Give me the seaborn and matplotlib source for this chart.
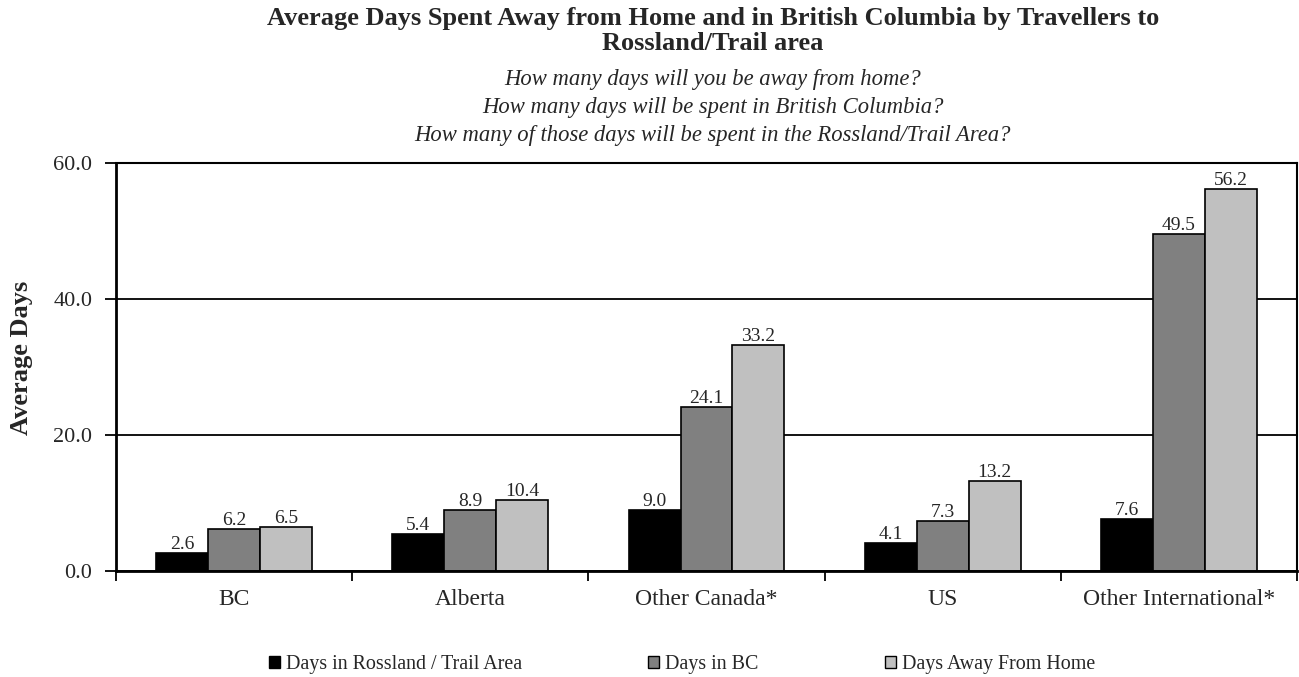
import matplotlib
matplotlib.use("Agg")
import matplotlib.pyplot as plt
import seaborn as sns
import pandas as pd
from matplotlib.ticker import FixedLocator
from matplotlib.patches import Patch

categories = ["BC", "Alberta", "Other Canada*", "US", "Other International*"]
series_names = ["Days in Rossland/Trail Area", "Days in BC", "Days Away From Home"]
legend_labels = ["Days in Rossland / Trail Area", "Days in BC", "Days Away From Home"]
days_rossland = [2.6, 5.4, 9.0, 4.1, 7.6]
days_bc = [6.2, 8.9, 24.1, 7.3, 49.5]
days_away = [6.5, 10.4, 33.2, 13.2, 56.2]
colors = ["#000000", "#808080", "#C0C0C0"]
yticks = [0, 20, 40, 60]
title_lines = ["Average Days Spent Away from Home and in British Columbia by Travellers to",
               "Rossland/Trail area"]
subtitle_lines = ["How many days will you be away from home?",
                  "How many days will be spent in British Columbia?",
                  "How many of those days will be spent in the Rossland/Trail Area?"]

rows = []
for name, vals in zip(series_names, [days_rossland, days_bc, days_away]):
    for c, v in zip(categories, vals):
        rows.append({"Region": c, "Series": name, "Days": v})
df = pd.DataFrame(rows)

sns.set_style("white")
plt.rcParams["font.family"] = ["Liberation Serif", "DejaVu Serif"]

W, H = 1299, 677
fig = plt.figure(figsize=(W / 100, H / 100), dpi=100)
ax = fig.add_axes([116 / W, 1 - 571 / H, (1297 - 116) / W, (571 - 163) / H])

sns.barplot(data=df, x="Region", y="Days", hue="Series", order=categories,
            hue_order=series_names, palette=colors, width=0.66, saturation=1,
            edgecolor="black", linewidth=1.2, ax=ax, legend=False, errorbar=None)

for cont in ax.containers:
    ax.bar_label(cont, fmt="%.1f", padding=0, fontsize=14)

ax.set_ylim(0, 60)
ax.set_xlim(-0.5, len(categories) - 0.5)
ax.set_yticks(yticks)
ax.set_yticklabels([f"{t:.1f}" for t in yticks], fontsize=16)
ax.yaxis.grid(True, color="black", linewidth=1.3)
ax.set_axisbelow(True)
ax.tick_params(axis="y", which="major", length=8, width=1.3, color="black",
               direction="out", left=True, pad=9)
ax.tick_params(axis="x", which="major", length=0, pad=13, labelsize=17)
ax.xaxis.set_minor_locator(FixedLocator([i - 0.5 for i in range(len(categories) + 1)]))
ax.tick_params(axis="x", which="minor", length=7, width=1.3, color="black",
               direction="out", bottom=True)
for s in ax.spines.values():
    s.set_color("black")
    s.set_linewidth(1.5)
ax.spines["left"].set_linewidth(2)
ax.spines["bottom"].set_linewidth(2)
ax.set_xlabel("")
ax.set_ylabel("Average Days", fontsize=19, fontweight="bold")
ax.yaxis.label.set_va("center")
ax.yaxis.set_label_coords((22 - 116) / 1181, (571 - 358) / 408)

cx = 713 / W
for line, base in zip(title_lines, [25, 50]):
    fig.text(cx, 1 - base / H, line, ha="center", va="baseline",
             fontsize=19, fontweight="bold")
for line, base in zip(subtitle_lines, [85, 113, 141]):
    fig.text(cx, 1 - base / H, line, ha="center", va="baseline",
             fontsize=16.3, style="italic")

handles = [Patch(facecolor=c, edgecolor="black", linewidth=1) for c in colors]
fig.legend(handles, legend_labels, loc="center left", bbox_to_anchor=(269 / W, 1 - 665 / H),
           ncol=3, frameon=False, fontsize=14.4, handlelength=0.55, handleheight=0.55,
           handletextpad=0.3, columnspacing=6.3, borderpad=0, borderaxespad=0)

fig.savefig("out.png", dpi=100)
